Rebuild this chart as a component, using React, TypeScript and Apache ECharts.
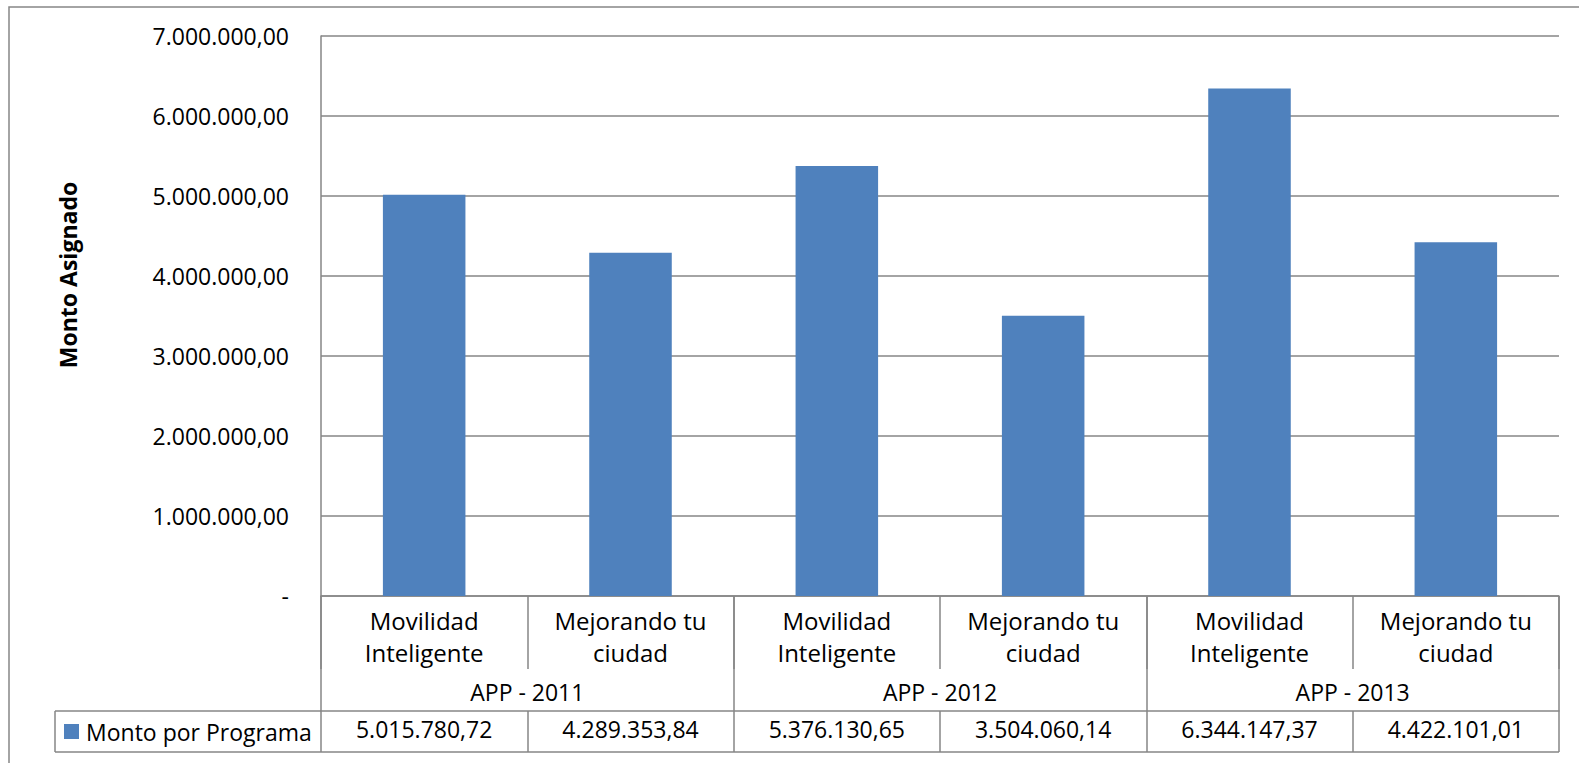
import React, { useEffect, useRef } from "react";
import * as echarts from "echarts";

const categories = [
  "Movilidad\nInteligente",
  "Mejorando tu\nciudad",
  "Movilidad\nInteligente",
  "Mejorando tu\nciudad",
  "Movilidad\nInteligente",
  "Mejorando tu\nciudad",
];
const groups = ["APP - 2011", "APP - 2012", "APP - 2013"];
const seriesName = "Monto por Programa";
const yTitle = "Monto Asignado";
const values = [5015780.72, 4289353.84, 5376130.65, 3504060.14, 6344147.37, 4422101.01];
const yTicks = [0, 1000000, 2000000, 3000000, 4000000, 5000000, 6000000, 7000000];

const FONT = "'Open Sans'";
const GRAY = "#868686";
const BLUE = "#4F81BD";

function fmt(v: number): string {
  const fixed = v.toFixed(2);
  const [i, d] = fixed.split(".");
  const withDots = i.replace(/\B(?=(\d{3})+(?!\d))/g, ".");
  return withDots + "," + d;
}

const GRID_LEFT = 321;
const GRID_RIGHT = 20;
const GRID_TOP = 36;
const GRID_BOTTOM = 167;

export default function App() {
  const ref = useRef<HTMLDivElement>(null);
  useEffect(() => {
    if (!ref.current) return;
    const chart = echarts.init(ref.current, null, { renderer: "svg" });
    const H = 763;
    const axisY = H - GRID_BOTTOM;
    const rowTop = axisY + 115;
    const rowBottom = rowTop + 41;
    const tableLeft = 55;
    const tableRight = 1579 - GRID_RIGHT;
    chart.setOption({
      animation: false,
      backgroundColor: "#fff",
      grid: { left: GRID_LEFT, right: GRID_RIGHT, top: GRID_TOP, bottom: GRID_BOTTOM, containLabel: false },
      yAxis: {
        type: "value",
        min: yTicks[0],
        max: yTicks[yTicks.length - 1],
        interval: 1000000,
        axisLine: { show: true, lineStyle: { color: GRAY, width: 1.5 } },
        axisTick: { show: false },
        splitLine: { show: true, lineStyle: { color: GRAY, width: 1.5 } },
        axisLabel: {
          margin: 32,
          fontFamily: FONT,
          fontSize: 23,
          color: "#000",
          formatter: (v: number) => (v === 0 ? "-" : fmt(v)),
        },
      },
      xAxis: [
        {
          type: "category",
          data: categories,
          position: "bottom",
          axisLine: { show: true, onZero: false, lineStyle: { color: GRAY, width: 1.5 } },
          axisTick: { show: true, length: 73, interval: 0, lineStyle: { color: GRAY, width: 1.5 } },
          axisLabel: {
            interval: 0,
            margin: 8,
            fontFamily: FONT,
            fontSize: 24,
            lineHeight: 32,
            color: "#000",
          },
        },
        {
          type: "category",
          data: groups,
          position: "bottom",
          axisLine: { show: false },
          axisTick: { show: true, length: 115, interval: 0, lineStyle: { color: GRAY, width: 1.5 } },
          axisLabel: {
            interval: 0,
            margin: 81,
            fontFamily: FONT,
            fontSize: 23,
            lineHeight: 30,
            color: "#000",
          },
        },
        {
          type: "category",
          data: values.map(fmt),
          position: "bottom",
          offset: 115,
          axisLine: { show: true, lineStyle: { color: GRAY, width: 1.5 } },
          axisTick: { show: true, length: 41, interval: 0, lineStyle: { color: GRAY, width: 1.5 } },
          axisLabel: {
            interval: 0,
            margin: 3,
            fontFamily: FONT,
            fontSize: 23,
            lineHeight: 30,
            color: "#000",
          },
        },
      ],
      series: [
        {
          name: seriesName,
          type: "bar",
          xAxisIndex: 0,
          data: values,
          barWidth: "40%",
          itemStyle: { color: BLUE },
        },
      ],
      graphic: [
        {
          type: "rect",
          shape: { x: 9, y: 7, width: 1700, height: 900 },
          style: { fill: "none", stroke: GRAY, lineWidth: 1.5 },
          silent: true,
        },
        {
          type: "text",
          x: 68,
          y: 275,
          rotation: Math.PI / 2,
          style: {
            text: yTitle,
            fontFamily: FONT,
            fontSize: 23,
            fontWeight: "bold",
            fill: "#000",
            align: "center",
            verticalAlign: "middle",
          },
        },
        {
          type: "line",
          shape: { x1: tableLeft, y1: rowTop, x2: GRID_LEFT, y2: rowTop },
          style: { stroke: GRAY, lineWidth: 1.5 },
        },
        {
          type: "line",
          shape: { x1: tableLeft, y1: rowBottom, x2: tableRight, y2: rowBottom },
          style: { stroke: GRAY, lineWidth: 1.5 },
        },
        {
          type: "line",
          shape: { x1: tableLeft, y1: rowTop, x2: tableLeft, y2: rowBottom },
          style: { stroke: GRAY, lineWidth: 1.5 },
        },
        {
          type: "rect",
          shape: { x: 64, y: rowTop + 13, width: 15, height: 15 },
          style: { fill: BLUE },
        },
        {
          type: "text",
          x: 86,
          y: rowTop + 21,
          style: {
            text: seriesName,
            fontFamily: FONT,
            fontSize: 23,
            fill: "#000",
            verticalAlign: "middle",
          },
        },
      ],
    });
    return () => chart.dispose();
  }, []);
  return (
    <div
      ref={ref}
      style={{ position: "fixed", left: 0, top: 0, width: 1579, height: 763 }}
    />
  );
}
